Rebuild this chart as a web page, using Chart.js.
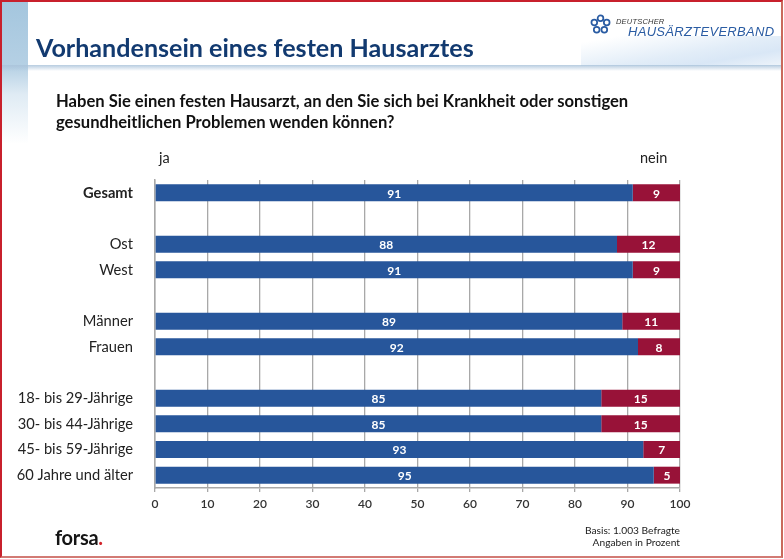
<!DOCTYPE html>
<html lang="de">
<head>
<meta charset="utf-8">
<title>Vorhandensein eines festen Hausarztes</title>
<script src="https://cdn.jsdelivr.net/npm/chart.js@4"></script>
<style>
  html, body { margin: 0; padding: 0; background: #fff; }
  #page { position: relative; width: 784px; height: 559px; overflow: hidden; font-family: Lato, sans-serif; background: #fff; }
  #page div { position: absolute; white-space: nowrap; }
  canvas { position: absolute; left: 0; top: 0; }
  .sideBand { left: 2px; top: 2px; width: 26px; height: 142px; background: linear-gradient(to bottom, #a4c6de 0%, #b5d0e4 45%, #dfebf4 65%, #ffffff 100%); }
  .logoBand { left: 581px; top: 36px; width: 200px; height: 30px; background: linear-gradient(170deg, #ffffff 10%, #e2edf8 55%, #d9e7f6 75%, #eef4fa 100%); }
  .headLine { left: 2px; top: 65px; width: 779px; height: 6px; background: linear-gradient(to bottom, rgba(170,195,218,0.85), rgba(255,255,255,0)); }
  .frame { left: 0; top: 0; width: 779px; height: 554px; border-style: solid; border-width: 2px; border-color: #c8202c #c9695c #d27a74 #c8202c; }
  .title { left: 36px; top: 30px; font-size: 25.1px; line-height: 34px; font-weight: 700; color: #123a70; }
  .question { left: 56px; top: 91px; font-size: 16.6px; line-height: 21px; font-weight: 700; color: #111; }
  .colHead { top: 149px; font-size: 14.5px; line-height: 18px; color: #222; }
  .note { right: 104px; top: 525px; font-size: 10.2px; line-height: 11.5px; text-align: right; color: #222; }
  .forsa { left: 55px; top: 524px; font-size: 20px; line-height: 26px; font-weight: 700; color: #151515; letter-spacing: -0.3px; }
  .forsa span { color: #d2232a; }
  .logoSmall { left: 616px; top: 17px; font: italic 7.5px "Liberation Sans", sans-serif; color: #333; letter-spacing: 0.2px; }
  .logoBig { left: 628px; top: 24px; font: italic 13px "Liberation Sans", sans-serif; color: #2a5ca3; letter-spacing: 0.3px; }
  svg { position: absolute; left: 590px; top: 14px; }
</style>
</head>
<body>
<div id="page">
  <div class="sideBand"></div>
  <div class="logoBand"></div>
  <div class="headLine"></div>
  <canvas id="appBarChart" width="784" height="559"></canvas>
  <div class="title">Vorhandensein eines festen Hausarztes</div>
  <div class="question">Haben Sie einen festen Hausarzt, an den Sie sich bei Krankheit oder sonstigen<br>gesundheitlichen Problemen wenden können?</div>
  <div class="colHead" style="left:159px">ja</div>
  <div class="colHead" style="left:640px">nein</div>
  <div class="forsa">forsa<span>.</span></div>
  <div class="note">Basis: 1.003 Befragte<br>Angaben in Prozent</div>
  <svg width="21" height="21" viewBox="0 0 22 22" fill="none" stroke="#2a5ca3" stroke-width="1.8">
    <circle cx="11" cy="4.5" r="3"/><circle cx="17.5" cy="9" r="3"/><circle cx="15" cy="16.5" r="3"/>
    <circle cx="7" cy="16.5" r="3"/><circle cx="4.5" cy="9" r="3"/>
  </svg>
  <div class="logoSmall">DEUTSCHER</div>
  <div class="logoBig">HAUSÄRZTEVERBAND</div>
  <div class="frame"></div>
</div>

<script>
// empty strings are the gaps between the groups
const categories = ["Gesamt", "", "Ost", "West", "", "Männer", "Frauen", "", "18- bis 29-Jährige", "30- bis 44-Jährige", "45- bis 59-Jährige", "60 Jahre und älter"];
const jaValues = [91, null, 88, 91, null, 89, 92, null, 85, 85, 93, 95];
const neinValues = [9, null, 12, 9, null, 11, 8, null, 15, 15, 7, 5];
const xTicks = [0, 10, 20, 30, 40, 50, 60, 70, 80, 90, 100];

const gridColor = "#a8a8a8";

// draws the white number in the middle of each bar
const barValuesPlugin = {
  id: "barValues",
  afterDatasetsDraw(chart) {
    const ctx = chart.ctx;
    ctx.save();
    ctx.font = "700 12px Lato, sans-serif";
    ctx.fillStyle = "#ffffff";
    ctx.textAlign = "center";
    ctx.textBaseline = "middle";
    chart.data.datasets.forEach((dataset, d) => {
      chart.getDatasetMeta(d).data.forEach((bar, i) => {
        if (dataset.data[i] === null) return;
        const center = bar.getCenterPoint();
        ctx.fillText(dataset.data[i], center.x, center.y + 1);
      });
    });
    ctx.restore();
  },
};

new Chart(document.getElementById("appBarChart"), {
  type: "bar",
  data: {
    labels: categories,
    datasets: [
      { label: "ja", data: jaValues, backgroundColor: "#27569b" },
      { label: "nein", data: neinValues, backgroundColor: "#981238" },
    ],
  },
  options: {
    indexAxis: "y",
    responsive: false,
    animation: false,
    layout: { padding: { top: 180, right: 104 } },
    datasets: { bar: { categoryPercentage: 1, barPercentage: 0.66 } },
    plugins: { legend: { display: false }, tooltip: { enabled: false } },
    scales: {
      x: {
        stacked: true,
        min: 0,
        max: 100,
        afterFit: (scale) => { scale.height = 71; },
        afterBuildTicks: (scale) => { scale.ticks = xTicks.map((value) => ({ value })); },
        grid: { color: gridColor, lineWidth: 1.3, tickLength: 4, drawTicks: true },
        border: { color: gridColor, width: 1.5 },
        ticks: { color: "#333", padding: 5, maxRotation: 0, font: { family: "Lato, sans-serif", size: 12, weight: "600" } },
      },
      y: {
        stacked: true,
        afterFit: (scale) => { scale.width = 155; },
        grid: { display: false },
        border: { color: gridColor, width: 1.5 },
        ticks: {
          autoSkip: false,
          color: "#222",
          padding: 14,
          font: (c) => ({ family: "Lato, sans-serif", size: 14.7, weight: c.index === 0 ? "700" : "400" }),
        },
      },
    },
  },
  plugins: [barValuesPlugin],
});
</script>
</body>
</html>
